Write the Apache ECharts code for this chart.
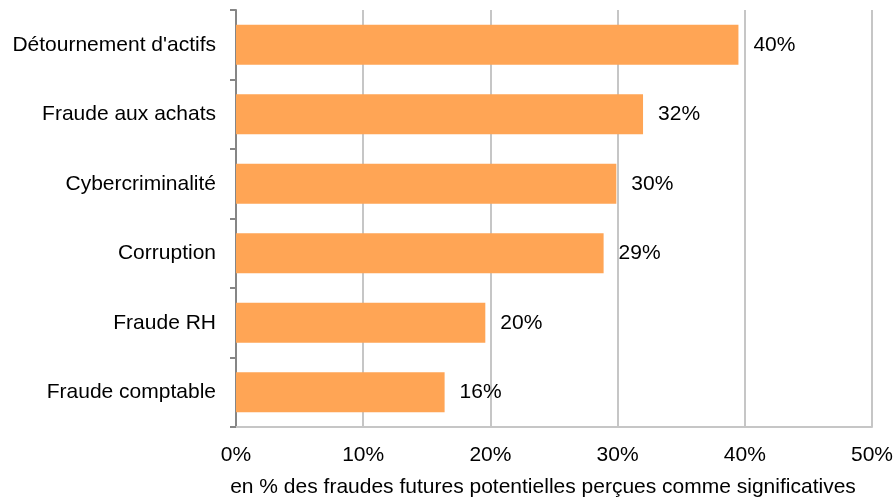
<!DOCTYPE html>
<html>
<head>
<meta charset="utf-8">
<script src="https://cdn.jsdelivr.net/npm/echarts@6/dist/echarts.min.js"></script>
<style>
    html, body { margin: 0; padding: 0; background: #ffffff; }
    #fraudBar { width: 896px; height: 497px; }
</style>
</head>
<body>
<div id="fraudBar"></div>
<script>
// categories listed bottom to top (category axis on y starts at the bottom)
var categories = ['Fraude comptable', 'Fraude RH', 'Corruption', 'Cybercriminalité', 'Fraude aux achats', "Détournement d'actifs"];
var values = [16.4, 19.6, 28.9, 29.9, 32.0, 39.5];
var valueLabels = ['16%', '20%', '29%', '30%', '32%', '40%'];
var xTicks = [0, 10, 20, 30, 40, 50];

var fraudBar = echarts.init(document.getElementById('fraudBar'));
var fontFam = 'Liberation Sans, Arial, sans-serif';

var option = {
    animation: false,
    grid: {
        left: 236,
        right: 24,
        top: 10,
        bottom: 70,
        containLabel: false,
        outerBoundsMode: 'none'
    },
    xAxis: {
        type: 'value',
        min: xTicks[0],
        max: xTicks[xTicks.length - 1],
        interval: 10,
        name: 'en % des fraudes futures potentielles perçues comme significatives',
        nameLocation: 'middle',
        nameGap: 50,
        nameTextStyle: {
            color: '#000000',
            fontSize: 21,
            fontFamily: fontFam,
            padding: [0, 22, 0, 0]   // nudge the title a bit left, like the original
        },
        axisLabel: {
            color: '#000000',
            fontSize: 21,
            fontFamily: fontFam,
            margin: 18,
            formatter: '{value}%'
        },
        axisLine: { show: true, lineStyle: { color: '#c6c6c6', width: 2 } },
        axisTick: { show: false },
        splitLine: { lineStyle: { color: '#c6c6c6', width: 2 } }
    },
    yAxis: {
        type: 'category',
        data: categories,
        axisLabel: {
            color: '#000000',
            fontSize: 21,
            fontFamily: fontFam,
            margin: 20
        },
        axisLine: { show: true, lineStyle: { color: '#868686', width: 2 } },
        axisTick: { show: true, length: 6, lineStyle: { color: '#868686', width: 2 } }
    },
    series: [
        {
            type: 'bar',
            data: values,
            barWidth: '57.5%',
            itemStyle: { color: '#ffa555' },
            label: {
                show: true,
                position: 'right',
                distance: 15,
                color: '#000000',
                fontSize: 21,
                fontFamily: fontFam,
                formatter: function (p) { return valueLabels[p.dataIndex]; }
            }
        }
    ]
};

fraudBar.setOption(option);
</script>
</body>
</html>
